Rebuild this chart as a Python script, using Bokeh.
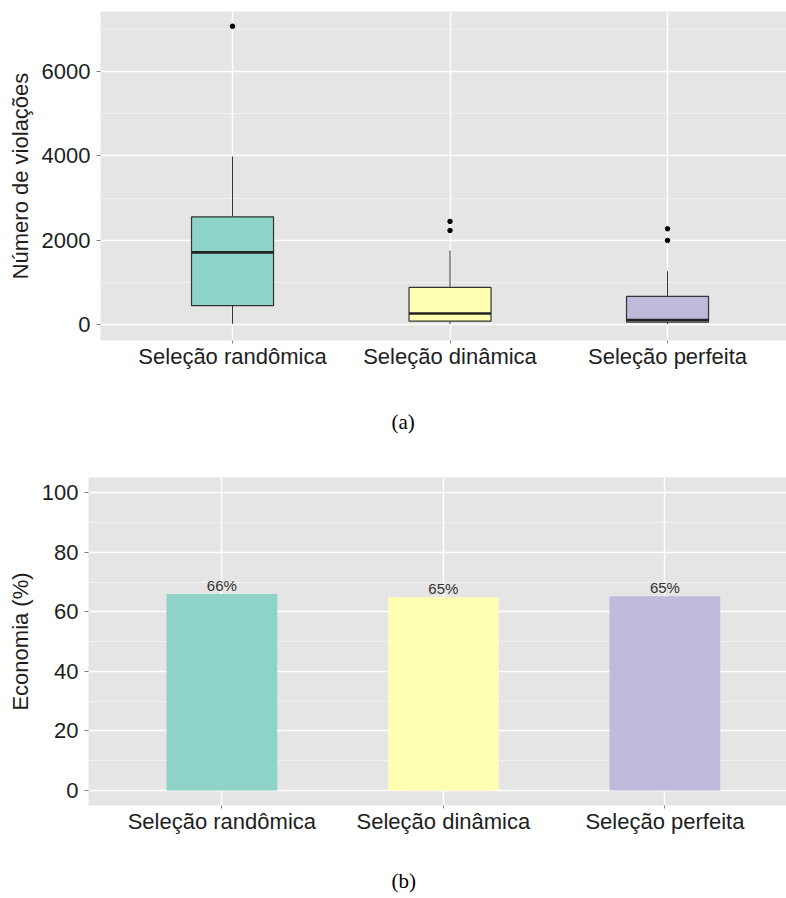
from bokeh.plotting import figure
from bokeh.models import FixedTicker, Range1d, Title, ColumnDataSource
from bokeh.embed import file_html
from bokeh.resources import INLINE
from bokeh.core.properties import value

# ---------------- data ----------------
categories = ["Seleção randômica", "Seleção dinâmica", "Seleção perfeita"]
colors = ["#8DD3C7", "#FFFFB3", "#BEBADA"]

box_q1 = [445, 78, 58]
box_median = [1710, 262, 105]
box_q3 = [2555, 878, 665]
whisker_low = [15, 10, 8]
whisker_high = [3985, 1755, 1265]
outlier_group = [0, 1, 1, 2, 2]
outlier_values = [7075, 2445, 2230, 2270, 1995]

economia = [66.0, 64.9, 65.2]
economia_labels = ["66%", "65%", "65%"]

violation_ticks = [0, 2000, 4000, 6000]
violation_minor = [1000, 3000, 5000, 7000]
economia_ticks = [0, 20, 40, 60, 80, 100]
economia_minor = [10, 30, 50, 70, 90]

FONT = "Liberation Sans"
TXT = "#1e1e1e"
BG = "#E5E5E5"

xpos = [i + 1 for i in range(len(categories))]


def style(p, yticks, yminor, ylabel):
    p.background_fill_color = BG
    p.border_fill_color = "white"
    p.outline_line_color = None
    p.xaxis.ticker = FixedTicker(ticks=xpos)
    p.xaxis.major_label_overrides = {x: c for x, c in zip(xpos, categories)}
    p.yaxis.ticker = FixedTicker(ticks=yticks, minor_ticks=yminor)
    p.yaxis.axis_label = ylabel
    for ax in (p.xaxis[0], p.yaxis[0]):
        ax.axis_line_color = None
        ax.major_tick_line_color = "#7F7F7F"
        ax.major_tick_line_width = 1
        ax.major_tick_out = 4
        ax.major_tick_in = 0
        ax.minor_tick_line_color = None
        ax.major_label_text_font = FONT
        ax.major_label_text_font_size = "22px"
        ax.major_label_text_color = TXT
        ax.axis_label_text_font = FONT
        ax.axis_label_text_font_size = "22px"
        ax.axis_label_text_font_style = "normal"
        ax.axis_label_text_color = TXT
    p.xaxis.major_tick_out = 3
    p.xaxis.major_label_standoff = 0
    p.yaxis.major_label_standoff = 6
    p.yaxis.axis_label_standoff = 6
    p.xgrid.grid_line_color = "white"
    p.xgrid.grid_line_width = 1.5
    p.ygrid.grid_line_color = "white"
    p.ygrid.grid_line_width = 1.6
    p.ygrid.minor_grid_line_color = "#F2F2F2"
    p.ygrid.minor_grid_line_width = 0.8


# ---------------- (a) box plot ----------------
pa = figure(frame_width=686, frame_height=329, output_backend="svg",
            toolbar_location=None, x_range=Range1d(0.393, 3.547),
            y_range=Range1d(-380, 7425),
            min_border_left=100, min_border_right=0, min_border_top=11,
            min_border_bottom=0)
style(pa, violation_ticks, violation_minor, "Número de violações")

box_w = 0.377
src = ColumnDataSource(dict(x=xpos, q1=box_q1, q3=box_q3, med=box_median,
                            lo=whisker_low, hi=whisker_high, color=colors,
                            x0=[x - box_w / 2 for x in xpos],
                            x1=[x + box_w / 2 for x in xpos]))
pa.segment(x0="x", y0="q3", x1="x", y1="hi", source=src,
           line_color="#333333", line_width=1)
pa.segment(x0="x", y0="q1", x1="x", y1="lo", source=src,
           line_color="#333333", line_width=1)
pa.vbar(x="x", width=box_w, bottom="q1", top="q3", source=src,
        fill_color="color", line_color="#333333", line_width=1.2)
pa.segment(x0="x0", y0="med", x1="x1", y1="med", source=src,
           line_color="#222222", line_width=2.6)
pa.scatter([xpos[g] for g in outlier_group], outlier_values, size=4.5,
           color="black")

ta = Title(text="(a)", align="left", offset=291, standoff=76,
           vertical_align="top", text_font="Liberation Serif",
           text_font_size="21px", text_font_style="normal", text_color="black")
pa.add_layout(ta, "below")

# ---------------- (b) bar chart ----------------
pb = figure(frame_width=698, frame_height=328, output_backend="svg",
            toolbar_location=None, x_range=Range1d(0.398, 3.549),
            y_range=Range1d(-5.03, 105.1),
            min_border_left=88, min_border_right=0, min_border_top=4,
            min_border_bottom=0)
style(pb, economia_ticks, economia_minor, "Economia (%)")

bsrc = ColumnDataSource(dict(x=xpos, top=economia, color=colors,
                             label=economia_labels))
pb.vbar(x="x", width=0.5, bottom=0, top="top", source=bsrc,
        fill_color="color", line_color=None)
pb.text(x="x", y="top", text="label", source=bsrc, text_align="center",
        text_baseline="bottom",
        text_font=value(FONT), text_font_size="15px", text_color="#333333")

tb = Title(text="(b)", align="left", offset=303, standoff=64,
           vertical_align="top", text_font="Liberation Serif",
           text_font_size="21px", text_font_style="normal", text_color="black")
pb.add_layout(tb, "below")

open("out.html", "w").write(file_html([pa, pb], INLINE))
